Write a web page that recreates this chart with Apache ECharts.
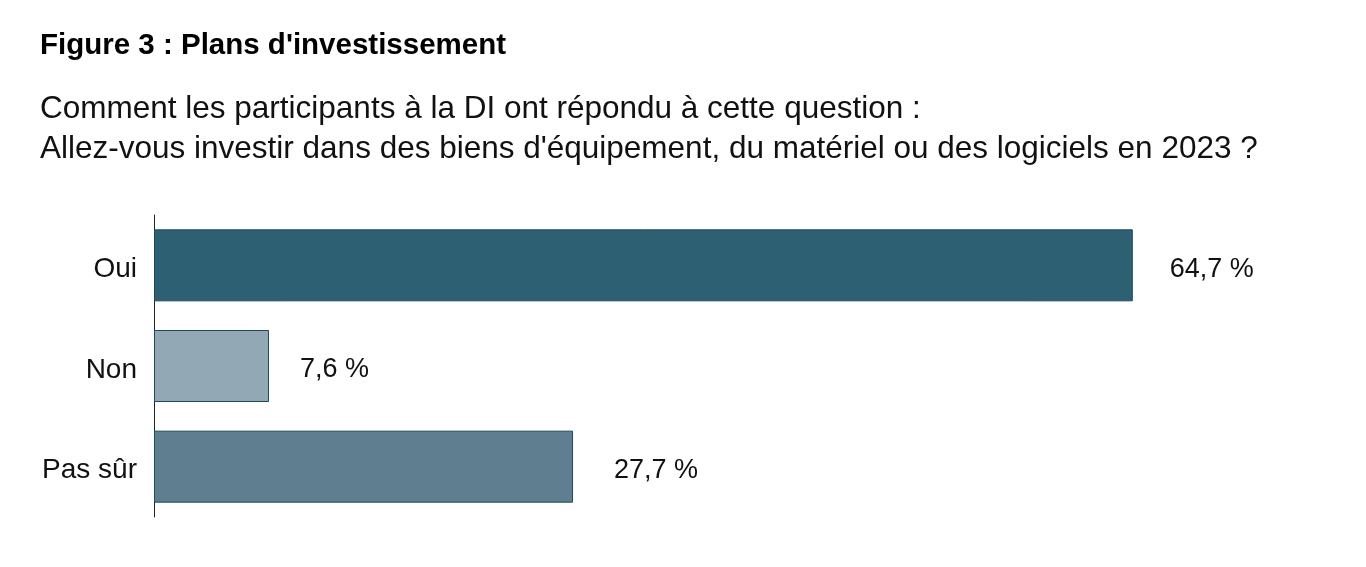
<!DOCTYPE html>
<html>
<head>
<meta charset="utf-8">
<script src="https://cdn.jsdelivr.net/npm/echarts@6/dist/echarts.min.js"></script>
<style>
html,body{margin:0;padding:0;background:#fff;}
#chart{width:1366px;height:567px;}
</style>
</head>
<body>
<div id="chart"></div>
<script>
const categories = ['Oui', 'Non', 'Pas sûr'];
const values = [64.7, 7.6, 27.7];
const barColors = ['#2d6072', '#93a8b5', '#5f7f91'];
const labelGaps = [37, 31, 41];
const titleText = "Figure 3 : Plans d'investissement";
const subtitleLines = ["Comment les participants à la DI ont répondu à cette question :", "Allez-vous investir dans des biens d'équipement, du matériel ou des logiciels en 2023 ?"];

const chart = echarts.init(document.getElementById('chart'));
chart.setOption({
  animation: false,
  backgroundColor: '#fff',
  title: [{
    text: titleText,
    left: 40, top: 31, padding: 0,
    textStyle: {fontFamily: 'Liberation Sans', fontWeight: 'bold', fontSize: 29.5, color: '#000'}
  }, {
    text: subtitleLines.join('\n'),
    left: 40, top: 89, padding: 0,
    textStyle: {fontFamily: 'Liberation Sans', fontWeight: 'normal', fontSize: 31.5, color: '#111', lineHeight: 40}
  }],
  grid: {left: 154, top: 215, height: 302, width: 1059},
  xAxis: {type: 'value', min: 0, max: 70, show: false},
  yAxis: {
    type: 'category', data: categories, inverse: true,
    axisLine: {show: true, lineStyle: {color: '#222', width: 1}},
    axisTick: {show: false},
    axisLabel: {
      margin: 17,
      formatter: v => '{c|' + v + '}',
      rich: {c: {fontFamily: 'Liberation Sans', fontSize: 28, color: '#111', padding: [8, 0, 0, 0]}}
    }
  },
  series: [{
    type: 'bar',
    barWidth: 72,
    data: values.map((v, i) => ({value: v, itemStyle: {color: barColors[i]}, label: {distance: labelGaps[i]}})),
    itemStyle: {borderColor: '#1d4a5a', borderWidth: 1},
    label: {
      show: true, position: 'right', offset: [0, 4],
      fontFamily: 'Liberation Sans', fontSize: 27, color: '#111',
      formatter: p => String(p.value).replace('.', ',') + ' %'
    }
  }]
});
</script>
</body>
</html>
